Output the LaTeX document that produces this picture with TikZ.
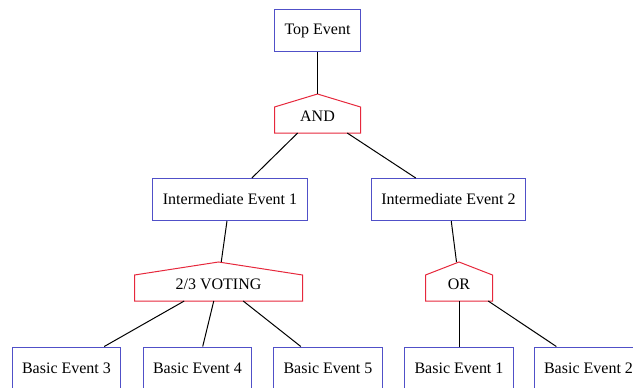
\documentclass[tikz,border=0pt]{standalone}
\usepackage{fontspec}
\setmainfont{Liberation Serif}
\definecolor{evblue}{RGB}{80,80,200}
\definecolor{gatered}{RGB}{230,40,60}

\begin{document}
\begin{tikzpicture}[x=1pt,y=-1pt,line width=1pt,
    font=\fontsize{16}{19}\selectfont,
    event/.style={draw=evblue,rectangle,inner xsep=10pt,inner ysep=0pt,minimum height=42pt},
    gate/.style={rectangle,inner sep=0pt,minimum height=38pt,text height=16pt,text depth=0pt},
    house/.style={draw=gatered,line join=miter}]
\useasboundingbox (0,0) rectangle (633,388);
% events and gates
\node[event] (top) at (317.5,30.5) {Top Event};
\node[gate,minimum width=85pt] (and) at (317.5,113.5) {AND};
\node[event] (ie1) at (230,199.5) {Intermediate Event 1};
\node[event] (ie2) at (448.5,199.5) {Intermediate Event 2};
\node[gate,minimum width=167pt] (vote) at (218.5,281.5) {2/3 VOTING};
\node[gate,minimum width=66pt] (or) at (459,281.5) {OR};
\node[event] (be3) at (66.5,368) {Basic Event 3};
\node[event] (be4) at (197.5,368) {Basic Event 4};
\node[event] (be5) at (328,368) {Basic Event 5};
\node[event] (be1) at (459,368) {Basic Event 1};
\node[event] (be2) at (588.5,368) {Basic Event 2};
% house outlines of the gates
\foreach \g in {and,vote,or}
  \draw[house] (\g.south west) -- ([yshift=-13pt]\g.north west) -- (\g.north)
    -- ([yshift=-13pt]\g.north east) -- (\g.south east) -- cycle;
% connections
\draw (top) -- (and);
\draw (and) -- (ie1);
\draw (and) -- (ie2);
\draw (ie1) -- (vote);
\draw (ie2) -- (or);
\foreach \b in {be3,be4,be5}
  \draw (vote) -- (\b);
\draw (or) -- (be1);
\draw (or) -- (be2);
\end{tikzpicture}
\end{document}
